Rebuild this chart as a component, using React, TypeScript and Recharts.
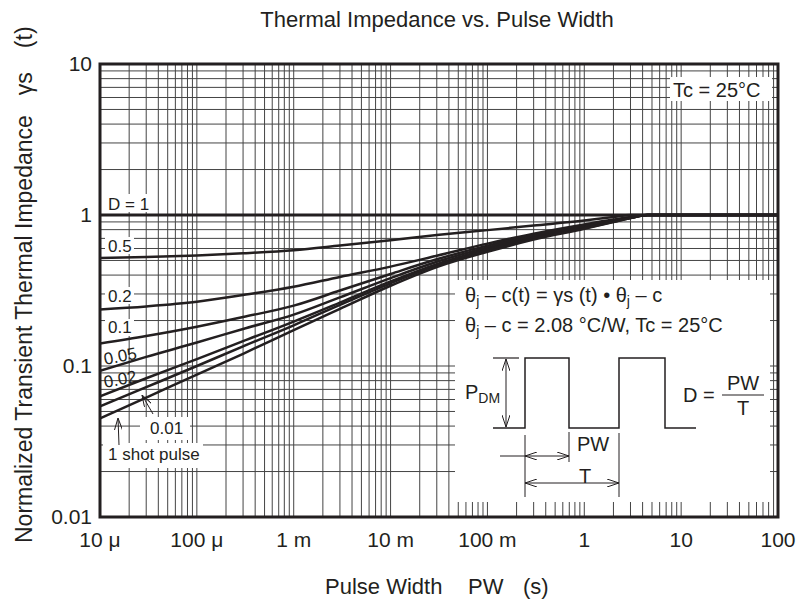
import React from "react";
import { LineChart, Line, XAxis, YAxis, CartesianGrid, ReferenceArea } from "recharts";

const FONT = "'Liberation Sans', Arial, Helvetica, sans-serif";
const INK = "#231f20";

// pulse width (s) and normalized transient thermal impedance per duty cycle
const PULSE_WIDTH = [1e-5, 3e-5, 1e-4, 3e-4, 1e-3, 3e-3, 1e-2, 3e-2, 0.1, 0.3, 1, 2, 3, 4.5, 10, 100];
const D_1 = [1, 1, 1, 1, 1, 1, 1, 1, 1, 1, 1, 1, 1, 1, 1, 1];
const D_0_5 = [0.52, 0.527, 0.54, 0.558, 0.585, 0.628, 0.681, 0.736, 0.794, 0.851, 0.918, 0.97, 1, 1, 1, 1];
const D_0_2 = [0.237, 0.248, 0.266, 0.295, 0.335, 0.389, 0.455, 0.537, 0.646, 0.753, 0.867, 0.933, 0.97, 1, 1, 1];
const D_0_1 = [0.141, 0.158, 0.182, 0.211, 0.251, 0.316, 0.407, 0.509, 0.627, 0.736, 0.847, 0.923, 0.966, 1, 1, 1];
const D_0_05 = [0.093, 0.115, 0.143, 0.176, 0.219, 0.285, 0.382, 0.49, 0.61, 0.72, 0.838, 0.916, 0.96, 1, 1, 1];
const D_0_02 = [0.063, 0.083, 0.111, 0.146, 0.197, 0.263, 0.363, 0.473, 0.594, 0.708, 0.826, 0.908, 0.957, 1, 1, 1];
const D_0_01 = [0.054, 0.0724, 0.1, 0.135, 0.186, 0.254, 0.353, 0.464, 0.583, 0.7, 0.818, 0.902, 0.955, 1, 1, 1];
const SINGLE = [0.045, 0.0618, 0.0877, 0.1205, 0.173, 0.239, 0.34, 0.452, 0.57, 0.687, 0.81, 0.897, 0.955, 1, 1, 1];

const X_DECADES = [1e-5, 1e-4, 1e-3, 1e-2, 1e-1, 1, 10, 100];
const X_LABELS = ["10 μ", "100 μ", "1 m", "10 m", "100 m", "1", "10", "100"];
const Y_DECADES = [0.01, 0.1, 1, 10];
const Y_LABELS = ["0.01", "0.1", "1", "10"];
const MINOR = [2, 3, 4, 5, 6, 7, 8, 9];

const withMinor = (decades: number[]) =>
  decades.flatMap((d, i) => (i < decades.length - 1 ? [d, ...MINOR.map((m) => m * d)] : [d]));

const X_TICKS = withMinor(X_DECADES);
const Y_TICKS = withMinor(Y_DECADES);

const labelFor = (decades: number[], labels: string[]) => (v: number) => {
  const i = decades.findIndex((d) => Math.abs(v / d - 1) < 1e-6);
  return i >= 0 ? labels[i] : "";
};

const data = PULSE_WIDTH.map((t, i) => ({
  t,
  d1: D_1[i],
  d05: D_0_5[i],
  d02: D_0_2[i],
  d01: D_0_1[i],
  d005: D_0_05[i],
  d002: D_0_02[i],
  d001: D_0_01[i],
  single: SINGLE[i],
}));

const SERIES = ["d05", "d02", "d01", "d005", "d002", "d001", "single"];

function Overlay() {
  const sub = (s: string) => (
    <tspan fontSize={14} dy={4}>
      {s}
    </tspan>
  );
  return (
    <svg
      width={797}
      height={608}
      style={{ position: "absolute", left: 0, top: 0, pointerEvents: "none" }}
      fontFamily={FONT}
      fill={INK}
    >
      <defs>
        <marker
          id="ah"
          viewBox="0 0 12 8"
          refX="12"
          refY="4"
          markerWidth="12"
          markerHeight="8"
          markerUnits="userSpaceOnUse"
          orient="auto-start-reverse"
        >
          <path d="M0,0 L12,4 L0,8" fill="none" stroke={INK} strokeWidth={1} />
        </marker>
      </defs>

      {/* titles */}
      <text x={437} y={27} fontSize={22} textAnchor="middle">
        Thermal Impedance vs. Pulse Width
      </text>
      <text x={325} y={594} fontSize={22}>Pulse Width</text>
      <text x={468} y={594} fontSize={22}>PW</text>
      <text x={523} y={594} fontSize={22}>(s)</text>
      <text x={32} y={543} fontSize={23} transform="rotate(-90 32 543)">
        Normalized Transient Thermal Impedance
        <tspan dx={20}>γ</tspan>
        <tspan>s</tspan>
        <tspan dx={24}>(t)</tspan>
      </text>

      {/* curve labels */}
      <rect x={105} y={194} width={45} height={18} fill="#fff" />
      <text x={108} y={210} fontSize={17}>D = 1</text>
      <rect x={105} y={237} width={29} height={17} fill="#fff" />
      <text x={108} y={252} fontSize={17}>0.5</text>
      <rect x={105} y={287} width={29} height={17} fill="#fff" />
      <text x={108} y={302} fontSize={17}>0.2</text>
      <rect x={105} y={319} width={29} height={17} fill="#fff" />
      <text x={108} y={333} fontSize={17}>0.1</text>
      <text x={105} y={365} fontSize={17} transform="rotate(-11 105 365)">0.05</text>
      <text x={105} y={388} fontSize={17} transform="rotate(-11 105 388)">0.02</text>
      <rect x={140} y={417} width={50} height={23} fill="#fff" />
      <text x={150} y={434} fontSize={17}>0.01</text>
      <line x1={153} y1={414} x2={142} y2={395} stroke={INK} strokeWidth={1} markerEnd="url(#ah)" />
      <rect x={103} y={443} width={100} height={25} fill="#fff" />
      <text x={108} y={460} fontSize={17}>1 shot pulse</text>
      <line x1={119} y1={445} x2={118} y2={418} stroke={INK} strokeWidth={1} markerEnd="url(#ah)" />

      <rect x={670} y={77} width={102} height={24} fill="#fff" />
      <text x={673} y={97} fontSize={20}>Tc = 25°C</text>

      {/* inset */}
      <rect x={455} y={280} width={315} height={222} fill="#fff" />
      <text x={465} y={302} fontSize={20}>
        θ{sub("j")}
        <tspan dy={-4}> – c(t) = γs (t) • θ</tspan>
        {sub("j")}
        <tspan dy={-4}> – c</tspan>
      </text>
      <text x={465} y={332} fontSize={20}>
        θ{sub("j")}
        <tspan dy={-4}> – c = 2.08 °C/W, Tc = 25°C</tspan>
      </text>
      <polyline
        points="493,428 525,428 525,358 569,358 569,428 619,428 619,358 665,358 665,428 696,428"
        fill="none"
        stroke={INK}
        strokeWidth={1.5}
      />
      <line x1={493} y1={358} x2={519} y2={358} stroke={INK} strokeWidth={1.2} />
      <line x1={506} y1={359} x2={506} y2={427} stroke={INK} strokeWidth={1} markerStart="url(#ah)" markerEnd="url(#ah)" />
      <text x={465} y={399} fontSize={20}>
        P<tspan fontSize={14} dy={4}>DM</tspan>
      </text>
      <text x={683} y={402} fontSize={20}>D =</text>
      <text x={743} y={390} fontSize={20} textAnchor="middle">PW</text>
      <line x1={722} y1={395} x2={764} y2={395} stroke={INK} strokeWidth={1.2} />
      <text x={743} y={415} fontSize={20} textAnchor="middle">T</text>
      <line x1={525} y1={435} x2={525} y2={497} stroke={INK} strokeWidth={1} />
      <line x1={569} y1={432} x2={569} y2={462} stroke={INK} strokeWidth={1} />
      <line x1={619} y1={433} x2={619} y2={497} stroke={INK} strokeWidth={1} />
      <line x1={500} y1={456} x2={525} y2={456} stroke={INK} strokeWidth={1} />
      <line x1={525} y1={456} x2={569} y2={456} stroke={INK} strokeWidth={1} markerStart="url(#ah)" markerEnd="url(#ah)" />
      <text x={577} y={451} fontSize={20}>PW</text>
      <line x1={525} y1={483} x2={619} y2={483} stroke={INK} strokeWidth={1} markerStart="url(#ah)" markerEnd="url(#ah)" />
      <text x={585} y={483} fontSize={20} textAnchor="middle">T</text>
    </svg>
  );
}

export default function App() {
  const tick = { fontSize: 21, fill: INK, fontFamily: FONT };
  return (
    <div style={{ position: "absolute", left: 0, top: 0, width: 797, height: 608, background: "#fff" }}>
      <LineChart width={797} height={608} data={data} margin={{ top: 64, right: 19, bottom: 61, left: 40 }}>
        <CartesianGrid stroke="#444" strokeWidth={1} />
        <XAxis
          dataKey="t"
          type="number"
          scale="log"
          domain={[1e-5, 100]}
          ticks={X_TICKS}
          interval={0}
          allowDataOverflow
          tickFormatter={labelFor(X_DECADES, X_LABELS)}
          tick={tick}
          tickLine={false}
          axisLine={false}
          tickMargin={9}
          height={30}
        />
        <YAxis
          type="number"
          scale="log"
          domain={[0.01, 10]}
          ticks={Y_TICKS}
          interval={0}
          allowDataOverflow
          tickFormatter={labelFor(Y_DECADES, Y_LABELS)}
          tick={tick}
          tickLine={false}
          axisLine={false}
          width={60}
        />
        {SERIES.map((k) => (
          <Line
            key={k}
            dataKey={k}
            type="monotone"
            stroke={INK}
            strokeWidth={2.5}
            dot={false}
            isAnimationActive={false}
          />
        ))}
        <Line dataKey="d1" type="linear" stroke={INK} strokeWidth={3} dot={false} isAnimationActive={false} />
        <ReferenceArea
          x1={1e-5}
          x2={100}
          y1={0.01}
          y2={10}
          fill="none"
          stroke={INK}
          strokeWidth={3}
          ifOverflow="visible"
        />
      </LineChart>
      <Overlay />
    </div>
  );
}
